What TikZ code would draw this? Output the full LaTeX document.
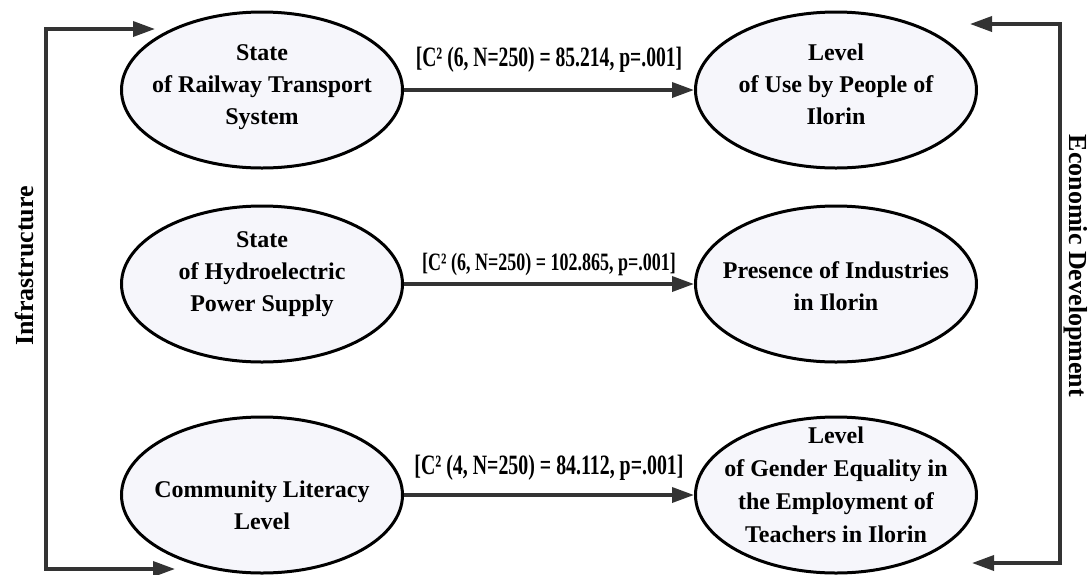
\documentclass[tikz,border=0pt]{standalone}
\usepackage{fontspec}
\setmainfont{Liberation Serif}
\usetikzlibrary{arrows.meta,shapes.geometric}
\definecolor{efill}{HTML}{F6F6FB}
\definecolor{lgray}{HTML}{333333}
\newcommand{\ebox}[2]{\makebox[0pt]{\raisebox{#1pt}[0pt][0pt]{\begin{tabular}{@{}c@{}}#2\end{tabular}}}}
\newcommand{\statlbl}[3]{\scalebox{#2}[1]{\fontsize{#1}{#1}\selectfont\bfseries #3}}
\tikzset{
  ellnode/.style={shape=ellipse, draw=black, line width=3pt, fill=efill,
    minimum width=281pt, minimum height=156pt, inner sep=0pt,
    font=\fontsize{24}{32}\selectfont\bfseries},
  conn/.style={draw=lgray, line width=3.5pt, -{Triangle[length=22pt,width=15pt]}},
  bracketconn/.style={draw=lgray, line width=3.5pt,
    {Triangle[length=22pt,width=15pt]}-{Triangle[length=22pt,width=15pt]}},
  sidelbl/.style={font=\fontsize{26}{26}\selectfont\bfseries, inner sep=0pt},
  statnode/.style={inner sep=0pt, anchor=center}
}
\begin{document}
\begin{tikzpicture}[x=1pt,y=-1pt]
\useasboundingbox[fill=white] (0,0) rectangle (1088,574);
% ellipses
\node[ellnode] (a1) at (262,90) {\ebox{-2}{State\\of Railway Transport\\System}};
\node[ellnode] (a2) at (262,284) {\ebox{5}{State\\of Hydroelectric\\Power Supply}};
\node[ellnode] (a3) at (262,495) {\ebox{-18}{Community Literacy\\Level}};
\node[ellnode] (b1) at (836,90) {\ebox{-2}{Level\\of Use by People of\\Ilorin}};
\node[ellnode] (b2) at (836,284) {\ebox{-10}{Presence of Industries\\in Ilorin}};
\node[ellnode, font=\fontsize{24}{33}\selectfont\bfseries] (b3) at (836,495) {\ebox{2}{Level\\of Gender Equality in\\the Employment of\\Teachers in Ilorin}};
% connectors with statistics
\draw[conn] (a1) -- node[statnode, yshift=30pt] (s1) {\statlbl{28}{0.70}{[C² (6, N=250) = 85.214, p=.001]}} (b1);
\draw[conn] (a2) -- node[statnode, yshift=20pt] (s2) {\statlbl{25}{0.72}{[C² (6, N=250) = 102.865, p=.001]}} (b2);
\draw[conn] (a3) -- node[statnode, yshift=27pt] (s3) {\statlbl{28}{0.71}{[C² (4, N=250) = 84.112, p=.001]}} (b3);
% outer brackets
\coordinate (lt) at (155,29);
\coordinate (lc1) at (46,29);
\coordinate (lc2) at (46,569);
\coordinate (lb) at (175,569);
\draw[bracketconn] (lt) -- (lc1) -- (lc2) -- (lb);
\coordinate (rt) at (970,24);
\coordinate (rc1) at (1060,24);
\coordinate (rc2) at (1060,563);
\coordinate (rb) at (972,563);
\draw[bracketconn] (rt) -- (rc1) -- (rc2) -- (rb);
% side labels
\node[sidelbl, rotate=90] (infra) at (25,266) {Infrastructure};
\node[sidelbl, rotate=-90] (econ) at (1076,266) {Economic Development};
\end{tikzpicture}
\end{document}
